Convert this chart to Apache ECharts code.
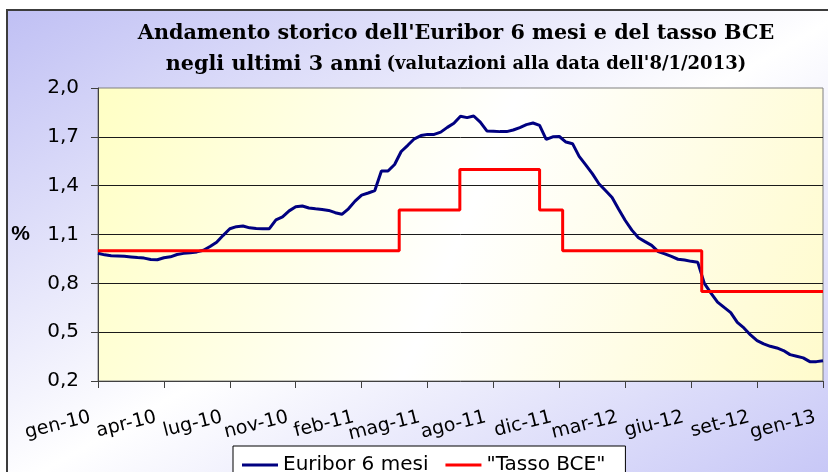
<!DOCTYPE html>
<html><head><meta charset="utf-8">
<script src="https://cdn.jsdelivr.net/npm/echarts@6/dist/echarts.min.js"></script>
<style>
html,body{margin:0;padding:0;overflow:hidden;width:828px;height:472px;background:#fff;}
#frame{position:absolute;left:6px;top:9px;width:840px;height:480px;border:2px solid #3c3c3c;background:linear-gradient(to bottom right,#c0c0f4 0%,#ffffff 50%,#c4c4f6 100%);}
#chart{position:absolute;left:0;top:0;width:828px;height:472px;}
</style></head><body>
<div id="frame"></div><div id="chart"></div>
<script>
const tickLabels = ['gen-10','apr-10','lug-10','nov-10','feb-11','mag-11','ago-11','dic-11','mar-12','giu-12','set-12','gen-13'];
const yTicks = [0.2,0.5,0.8,1.1,1.4,1.7,2.0];
const euribor = [
0.985,0.975,0.970,0.968,0.966,0.962,0.958,0.955,0.947,0.945,
0.957,0.963,0.977,0.984,0.988,0.993,1.003,1.026,1.052,1.095,
1.135,1.148,1.152,1.141,1.137,1.136,1.136,1.190,1.208,1.245,
1.270,1.275,1.263,1.258,1.254,1.248,1.234,1.224,1.258,1.305,
1.342,1.355,1.370,1.490,1.490,1.530,1.610,1.648,1.688,1.708,
1.715,1.715,1.729,1.758,1.783,1.826,1.818,1.828,1.790,1.736,
1.734,1.732,1.732,1.742,1.757,1.775,1.785,1.770,1.684,1.700,
1.702,1.668,1.658,1.580,1.528,1.474,1.412,1.370,1.327,1.255,
1.186,1.127,1.080,1.056,1.033,0.995,0.981,0.965,0.948,0.943,
0.935,0.929,0.800,0.740,0.685,0.652,0.620,0.560,0.526,0.483,
0.448,0.428,0.413,0.403,0.387,0.362,0.352,0.342,0.319,0.319,
0.325];
const categories = euribor.map((v, i) => String(i));
const pointsPerTick = 10;
// ECB rate changes, expressed in the same index units as the Euribor samples
const bceX = [0, 45.7, 54.9, 67.0, 70.5, 91.6, 110];
const bceY = [1.00, 1.25, 1.50, 1.25, 1.00, 0.75, 0.75];

const chart = echarts.init(document.getElementById('chart'), null, {renderer:'canvas'});
const axisColor = '#404040';
const sans = 'DejaVu Sans';
chart.setOption({
  backgroundColor: 'transparent',
  animation: false,
  title: {
    left: 451, top: 13, textAlign: 'center',
    text: "{a|Andamento storico dell'Euribor 6 mesi e del tasso BCE}\n{a|negli ultimi 3 anni} {b|(valutazioni alla data dell'8/1/2013)}",
    textStyle: {
      rich: {
        a: {fontFamily:'DejaVu Serif', fontWeight:'bold', fontSize:20.7, lineHeight:31, color:'#000'},
        b: {fontFamily:'DejaVu Serif', fontWeight:'bold', fontSize:18, lineHeight:31, color:'#000'}
      }
    }
  },
  grid: {
    left: 98, top: 88, width: 725, height: 293, show: true,
    borderColor: '#808080', borderWidth: 1,
    backgroundColor: new echarts.graphic.LinearGradient(0, 0, 1, 1, [
      {offset: 0, color: '#ffffc4'}, {offset: 0.5, color: '#ffffff'}, {offset: 1, color: '#fffbcc'}
    ])
  },
  legend: {
    left: 233, top: 446,
    backgroundColor: '#fff', borderColor: '#000', borderWidth: 1,
    padding: [9, 20, 12, 9],
    itemWidth: 36, itemHeight: 3, icon: 'rect', itemGap: 17,
    textStyle: {fontSize: 20, color: '#000', fontFamily: sans},
    data: ['Euribor 6 mesi', '"Tasso BCE"']
  },
  xAxis: [{
    type: 'category', data: categories, boundaryGap: false,
    axisLine: {lineStyle: {color: axisColor, width: 1}},
    axisTick: {interval: pointsPerTick - 1, length: 7, lineStyle: {color: axisColor}},
    axisLabel: {
      interval: 0, rotate: 14, fontSize: 19, color: '#000', fontFamily: sans, margin: 34,
      padding: [0, 8, 0, 0], hideOverlap: false,
      formatter: (v, i) => (i % pointsPerTick === 0 ? tickLabels[i / pointsPerTick] : '')
    },
    splitLine: {show: false}
  }, {
    type: 'value', min: 0, max: 110, show: false
  }],
  yAxis: {
    type: 'value', min: 0.2, max: 2.0,
    name: '%', nameLocation: 'middle', nameRotate: 0, nameGap: 68,
    nameTextStyle: {fontSize: 21, fontWeight: 'bold', fontFamily: 'Liberation Sans', color: '#000'},
    axisLine: {show: true, lineStyle: {color: axisColor}},
    axisTick: {show: true, length: 7, customValues: yTicks, lineStyle: {color: axisColor}},
    axisLabel: {customValues: yTicks, fontSize: 20, color: '#000', fontFamily: sans, margin: 19,
      formatter: v => v.toFixed(1).replace('.', ',')},
    splitLine: {show: true, showMinLine: false, showMaxLine: false, lineStyle: {color: '#1a1a1a', width: 1}}
  },
  series: [{
    name: 'Euribor 6 mesi', type: 'line', xAxisIndex: 0, data: euribor,
    symbol: 'none', showSymbol: false,
    lineStyle: {color: '#000080', width: 3}, itemStyle: {color: '#000080'}
  }, {
    name: '"Tasso BCE"', type: 'line', xAxisIndex: 1,
    data: bceX.map((x, i) => [x, bceY[i]]), step: 'end',
    symbol: 'none', showSymbol: false,
    lineStyle: {color: '#ff0000', width: 3}, itemStyle: {color: '#ff0000'}
  }]
});
</script>
</body></html>
